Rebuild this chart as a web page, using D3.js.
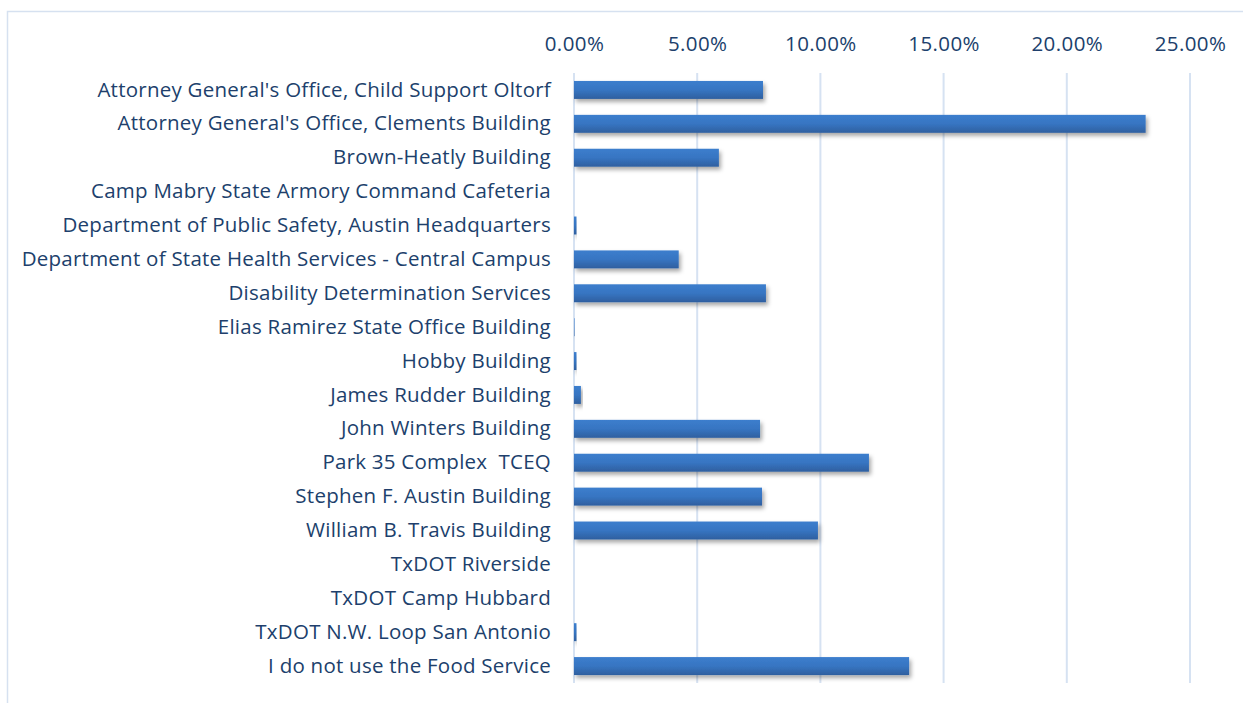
<!DOCTYPE html>
<html>
<head>
<meta charset="utf-8">
<script src="https://cdn.jsdelivr.net/npm/d3@7"></script>
<style>
  body { margin: 0; background: #fff; }
  text { font-family: "Open Sans", sans-serif; fill: #203f6c; white-space: pre; }
</style>
</head>
<body>
<svg width="1243" height="703"></svg>
<script>
var width = 1243, height = 703;

var categories = [
  "Attorney General's Office, Child Support Oltorf",
  "Attorney General's Office, Clements Building",
  "Brown-Heatly Building",
  "Camp Mabry State Armory Command Cafeteria",
  "Department of Public Safety, Austin Headquarters",
  "Department of State Health Services - Central Campus",
  "Disability Determination Services",
  "Elias Ramirez State Office Building",
  "Hobby Building",
  "James Rudder Building",
  "John Winters Building",
  "Park 35 Complex  TCEQ",
  "Stephen F. Austin Building",
  "William B. Travis Building",
  "TxDOT Riverside",
  "TxDOT Camp Hubbard",
  "TxDOT N.W. Loop San Antonio",
  "I do not use the Food Service"
];
// percent
var values = [7.67, 23.2, 5.88, 0, 0.1, 4.25, 7.79, 0.02, 0.1, 0.28, 7.55, 11.97, 7.63, 9.9, 0, 0, 0.1, 13.6];
var tickValues = [0, 5, 10, 15, 20, 25];

var svg = d3.select('svg');

var defs = svg.append('defs');
var grad = defs.append('linearGradient').attr('id', 'barGrad')
  .attr('x1', 0).attr('y1', 0).attr('x2', 0).attr('y2', 1);
grad.append('stop').attr('offset', '0%').attr('stop-color', '#3c7ecd');
grad.append('stop').attr('offset', '50%').attr('stop-color', '#3775c2');
grad.append('stop').attr('offset', '100%').attr('stop-color', '#2e5f9f');
var filt = defs.append('filter').attr('id', 'shadow')
  .attr('x', '-10%').attr('y', '-30%').attr('width', '130%').attr('height', '190%');
filt.append('feDropShadow').attr('dx', 2).attr('dy', 3).attr('stdDeviation', 2.2)
  .attr('flood-color', '#000').attr('flood-opacity', 0.35);

// chart border
svg.append('rect')
  .attr('x', 7.5).attr('y', 11.5).attr('width', 1260).attr('height', 720)
  .attr('fill', 'none').attr('stroke', '#d6e1f0').attr('stroke-width', 1.5);

var x = d3.scaleLinear().domain([0, 25]).range([574, 1190]);
var y = d3.scaleBand().domain(categories).range([73, 683]).paddingInner(0.47).paddingOuter(0.235);

// gridlines
svg.append('g').selectAll('line').data(tickValues).enter().append('line')
  .attr('x1', function(d){ return x(d); })
  .attr('x2', function(d){ return x(d); })
  .attr('y1', 73).attr('y2', 683)
  .attr('stroke', '#d6e2f2').attr('stroke-width', 2);

// top axis
var axis = d3.axisTop(x).tickValues(tickValues)
  .tickFormat(function(d){ return d.toFixed(2) + '%'; })
  .tickSize(0).tickPadding(0);
var ax = svg.append('g').attr('transform', 'translate(0,51)').call(axis);
ax.select('.domain').remove();
ax.selectAll('text').attr('font-size', 20.5).attr('fill', '#203f6c')
  .style('font-family', '"Open Sans", sans-serif').attr('letter-spacing', 0.4);

// bars
svg.append('g').selectAll('rect').data(values).enter().append('rect')
  .attr('x', x(0))
  .attr('y', function(d, i){ return y(categories[i]); })
  .attr('width', function(d){ return x(d) - x(0); })
  .attr('height', y.bandwidth())
  .attr('fill', 'url(#barGrad)')
  .attr('filter', 'url(#shadow)');

// category labels
var la = d3.axisLeft(y).tickSize(0).tickPadding(0);
var lg = svg.append('g').attr('transform', 'translate(551,0)').call(la);
lg.select('.domain').remove();
lg.selectAll('text').attr('font-size', 20.5).attr('fill', '#203f6c')
  .style('font-family', '"Open Sans", sans-serif').style('white-space', 'pre')
  .attr('letter-spacing', 0.25);
</script>
</body>
</html>
